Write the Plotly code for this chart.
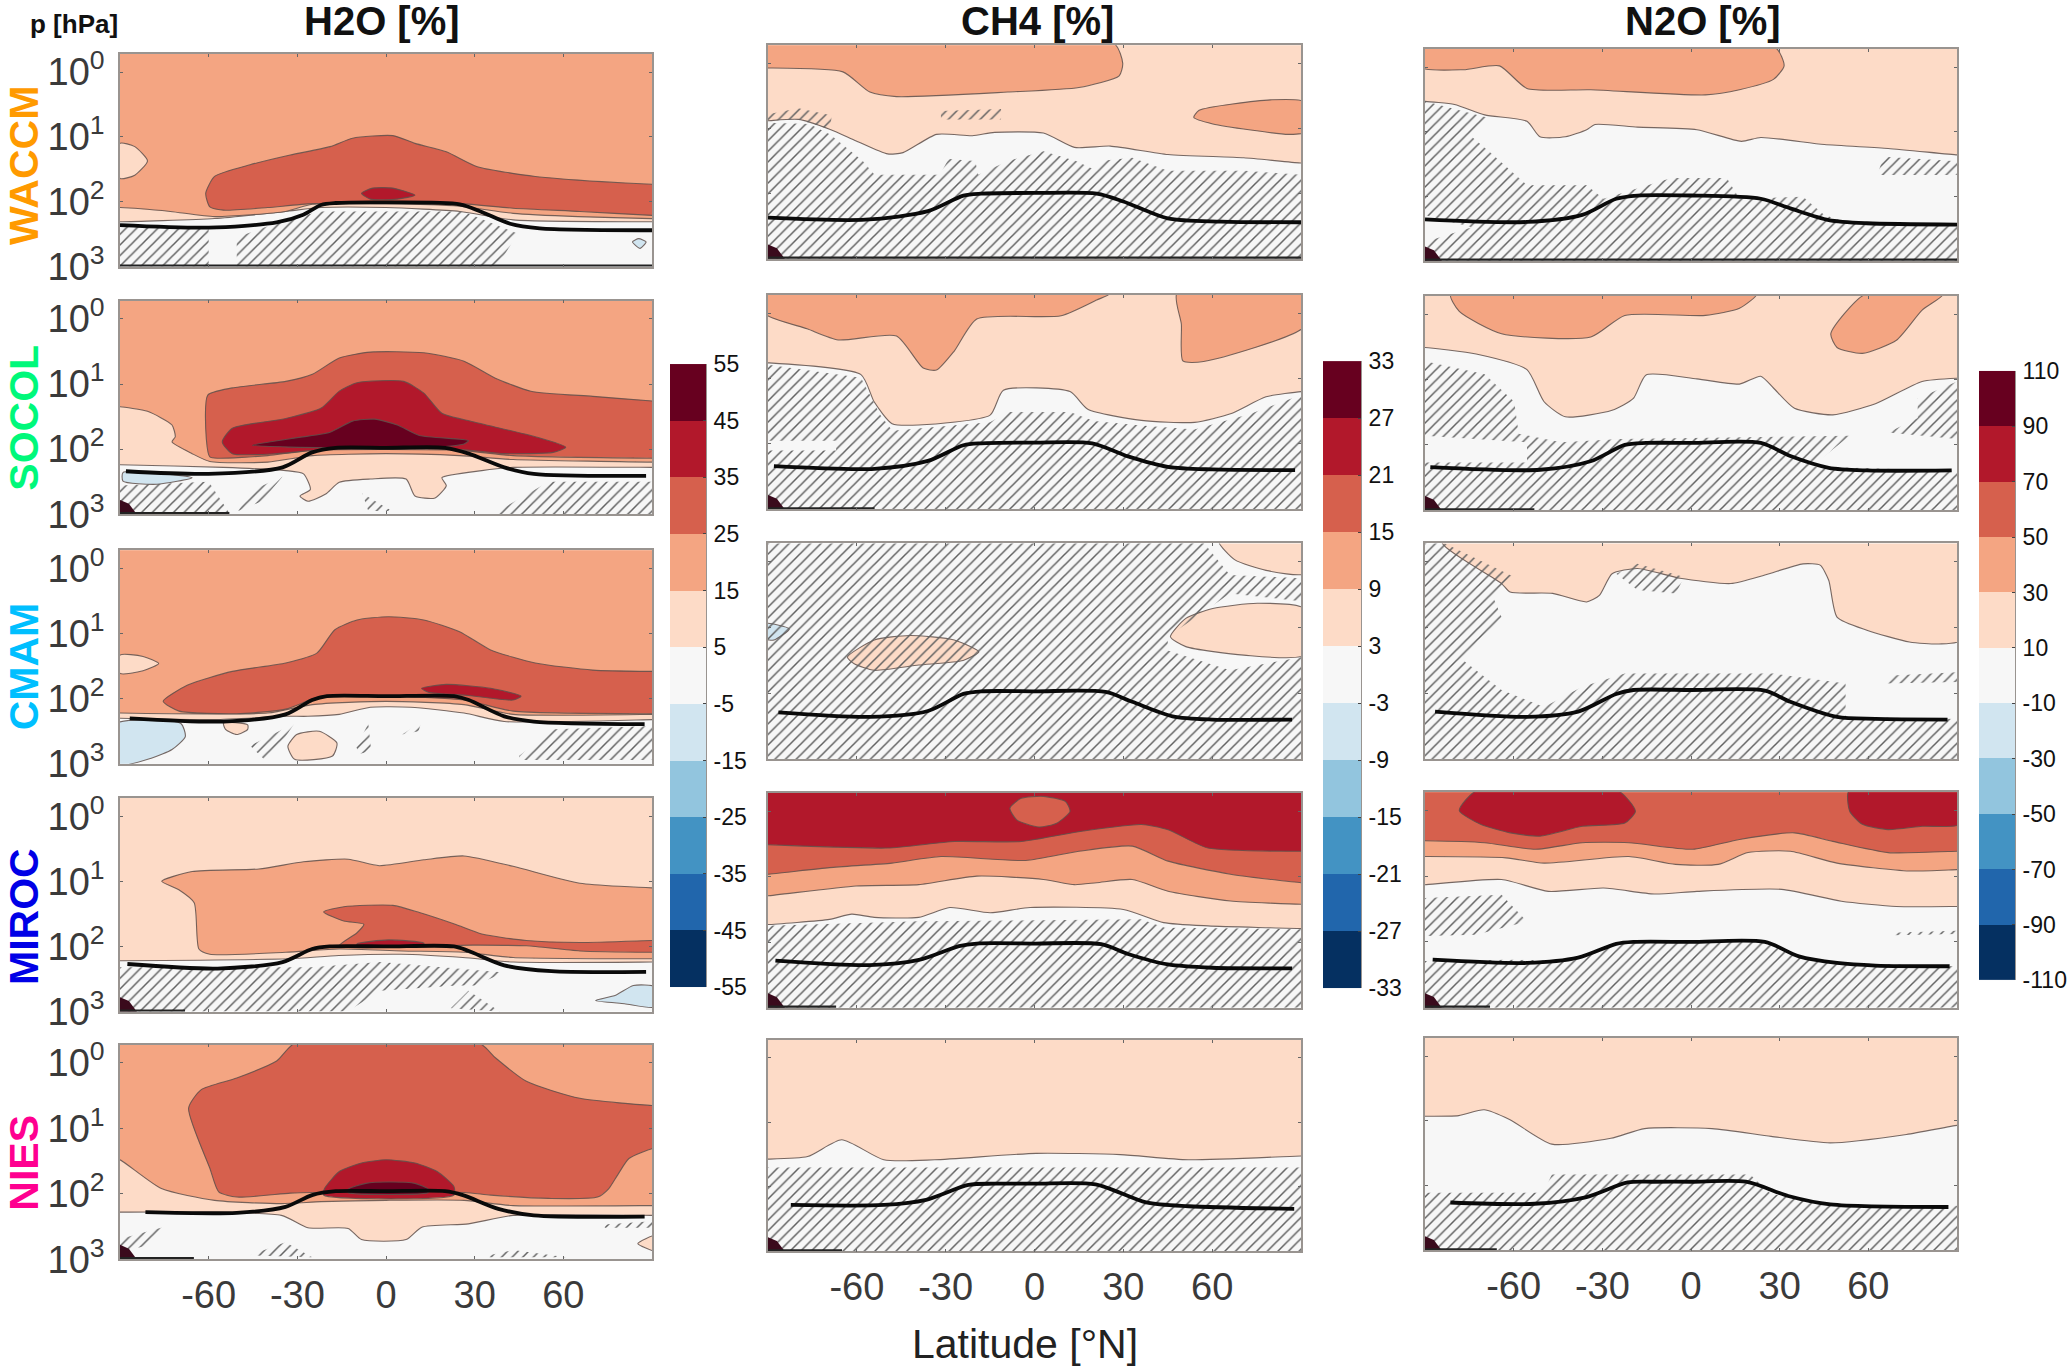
import numpy as np
import plotly.graph_objects as go

# colour classes, lowest to highest
colors = ['#053061', '#2166ac', '#4393c3', '#92c5de', '#d1e5f0', '#f7f7f7',
          '#fddbc7', '#f4a582', '#d6604d', '#b2182b', '#67001f']

h2o_levels = [-55, -45, -35, -25, -15, -5, 5, 15, 25, 35, 45, 55]
ch4_levels = [-33, -27, -21, -15, -9, -3, 3, 9, 15, 21, 27, 33]
n2o_levels = [-110, -90, -70, -50, -30, -10, 10, 30, 50, 70, 90, 110]

species = ['H2O [%]', 'CH4 [%]', 'N2O [%]']
models = ['WACCM', 'SOCOL', 'CMAM', 'MIROC', 'NIES']
model_colors = ['#ff9a00', '#00f87a', '#00bfff', '#0000e6', '#ff0090']
lat_ticks = [-60, -30, 0, 30, 60]
p_ticks = [1, 10, 100, 1000]
p_labels = ['10<sup>0</sup>', '10<sup>1</sup>', '10<sup>2</sup>', '10<sup>3</sup>']

# all curves below are (latitude, log10 pressure)

# ---- H2O WACCM
h2o_waccm_6 = [(-90, 2.31), (-58, 2.26), (-34, 2.15), (-22, 2.09), (0, 2.09), (25, 2.15), (43, 2.28), (90, 2.31)]
h2o_waccm_7 = [(-90, 2.09), (-73, 2.15), (-58, 2.23), (-34, 2.15), (-25, 2.04), (0, 2.03), (25, 2.07), (43, 2.18), (65, 2.23), (90, 2.26)]
h2o_waccm_blob = [(-90, 1.10), (-85, 1.15), (-80.7, 1.37), (-85, 1.59), (-90, 1.64), (-90, 1.10)]
h2o_waccm_8 = [(-59.6, 2.08), (-61, 1.87), (-58, 1.61), (-46, 1.43), (-32.4, 1.28), (-18.9, 1.15), (-11.3, 1.02), (2.3, 0.98), (9.8, 1.10), (20.4, 1.23), (30.9, 1.46), (50.5, 1.61), (73, 1.69), (90, 1.73), (91, 1.73), (91, 2.21), (90, 2.21), (65.6, 2.15), (43, 2.10), (24.9, 2.03), (-24.9, 2.03), (-40, 2.09), (-55, 2.13), (-59.6, 2.08)]
h2o_waccm_9 = [(-8.3, 1.87), (-4.5, 1.79), (2.3, 1.79), (9.8, 1.90), (3.8, 1.96), (-5.3, 1.96), (-8.3, 1.87)]
h2o_waccm_blue = [(83.4, 2.62), (85.5, 2.57), (88, 2.62), (86, 2.72), (83.4, 2.62)]
h2o_waccm_hatch = [
    [(-90, 2.39), (-60, 2.39), (-60, 3), (-90, 3)],
    [(-50.5, 2.55), (-34, 2.28), (-22, 2.15), (26, 2.15), (44.5, 2.49), (37.7, 3), (-50.5, 3)],
]
h2o_waccm_trop = [(-90, 2.36), (-60, 2.40), (-37, 2.32), (-28, 2.2), (-22, 2.05), (-17, 2.02), (0, 2.01), (25, 2.04), (32, 2.15), (42, 2.34), (52, 2.41), (90, 2.44)]

# ---- H2O SOCOL
h2o_socol_6 = [(-90, 2.24), (-55, 2.28), (-33.9, 2.33), (-27.9, 2.38), (-25.6, 2.62), (-29.1, 2.72), (-26.4, 2.80), (-20.4, 2.69), (-15.8, 2.51), (-5.3, 2.46), (6.8, 2.46), (9.8, 2.72), (16.6, 2.75), (20.4, 2.56), (18.9, 2.44), (32.4, 2.33), (43, 2.28), (90, 2.28)]
h2o_socol_7 = [(-90, 1.35), (-80.7, 1.42), (-72.4, 1.63), (-71.3, 1.81), (-72.4, 1.89), (-65.6, 2.07), (-59.6, 2.19), (-40, 2.20), (-24.9, 2.10), (0, 2.07), (24.9, 2.10), (43, 2.16), (90, 2.20)]
h2o_socol_8 = [(-59.6, 2.12), (-60.8, 1.84), (-60.3, 1.17), (-52, 1.06), (-33.9, 0.96), (-24.9, 0.85), (-15.8, 0.60), (-5.3, 0.51), (12.8, 0.52), (26.4, 0.65), (37, 0.91), (49, 1.11), (70, 1.19), (90, 1.26), (91, 1.26), (91, 2.14), (90, 2.14), (43, 2.10), (24.9, 2.02), (-24.9, 2.02), (-40, 2.10), (-56.6, 2.14), (-59.6, 2.12)]
h2o_socol_9 = [(-55.4, 1.89), (-52, 1.68), (-33.9, 1.53), (-21.9, 1.37), (-15.8, 1.11), (-9.8, 0.98), (6, 0.96), (12.8, 1.14), (18.9, 1.45), (29.4, 1.58), (50.5, 1.81), (60.8, 1.97), (56.6, 2.05), (40, 2.07), (26.4, 2.01), (-21.9, 2.01), (-37, 2.07), (-52, 2.07), (-55.4, 1.89)]
h2o_socol_10 = [(-45.2, 1.94), (-32.4, 1.84), (-18.9, 1.74), (-11.3, 1.57), (-3.8, 1.54), (3.8, 1.63), (11.3, 1.79), (27.9, 1.87), (26.4, 1.92), (14.3, 1.98), (-14.3, 1.98), (-32.4, 1.97), (-45.2, 1.94)]
h2o_socol_blue = [(-89, 2.36), (-65.6, 2.44), (-77.5, 2.54), (-89, 2.49), (-89, 2.36)]
h2o_socol_hatch = [
    [(-90, 2.56), (-60, 2.5), (-53, 2.98), (-90, 3)],
    [(-46, 2.65), (-35, 2.42), (-42, 2.8), (-50, 2.95)],
    [(-8, 2.68), (2, 2.95), (-6, 2.95)],
    [(38, 2.95), (55, 2.5), (90, 2.5), (90, 3), (38, 3)],
]
h2o_socol_trop = [(-88, 2.34), (-60, 2.38), (-35, 2.28), (-25, 2.05), (-17, 1.98), (0, 1.98), (20, 1.98), (28, 2.07), (40, 2.28), (50, 2.38), (88, 2.41)]

# ---- H2O CMAM
h2o_cmam_6 = [(-90, 2.30), (-58, 2.32), (-34, 2.27), (-26.4, 2.27), (-15.8, 2.24), (-5.3, 2.13), (8.3, 2.13), (26.4, 2.22), (40, 2.35), (90, 2.32)]
h2o_cmam_7 = [(-90, 2.22), (-40, 2.22), (-24.9, 2.09), (0, 2.04), (26.4, 2.09), (43, 2.24), (90, 2.24)]
h2o_cmam_blob = [(-90, 1.33), (-82.2, 1.35), (-76.9, 1.46), (-82.2, 1.57), (-90, 1.61), (-90, 1.33)]
h2o_cmam_8 = [(-75.4, 2.04), (-67.1, 1.79), (-52, 1.58), (-33.9, 1.45), (-23.4, 1.30), (-17.3, 0.94), (-9.8, 0.79), (0.8, 0.74), (12.8, 0.79), (24.9, 0.97), (35.4, 1.25), (50.5, 1.45), (70, 1.56), (90, 1.58), (91, 1.58), (91, 2.23), (90, 2.23), (43, 2.19), (26.4, 2.02), (0, 1.96), (-21.9, 1.96), (-33.9, 2.16), (-50.5, 2.23), (-70, 2.19), (-75.4, 2.04)]
h2o_cmam_9 = [(12, 1.84), (20.4, 1.78), (35.4, 1.84), (45.7, 1.96), (43, 2.02), (27.9, 1.95), (14.3, 1.90), (12, 1.84)]
h2o_cmam_blue = [(-91, 2.38), (-69.4, 2.38), (-67.9, 2.58), (-72.4, 2.78), (-79.2, 2.91), (-91, 3.02), (-91, 2.38)]
h2o_cmam_spot1 = [(-55, 2.37), (-46.8, 2.40), (-46.8, 2.47), (-50.5, 2.55), (-54.3, 2.47), (-55, 2.37)]
h2o_cmam_spot2 = [(-33.2, 2.73), (-30.2, 2.55), (-22.6, 2.50), (-16.6, 2.68), (-18.1, 2.88), (-30.9, 2.93), (-33.2, 2.73)]
h2o_cmam_hatch = [
    [(-46, 2.72), (-31, 2.38), (-36, 2.72), (-41, 2.94)],
    [(-10, 2.75), (-6, 2.38), (-5, 2.8), (-9, 2.85)],
    [(5.5, 2.55), (12, 2.35), (11, 2.5)],
    [(45, 2.88), (57, 2.47), (90, 2.42), (90, 2.94), (45, 2.94)],
]
h2o_cmam_trop = [(-86.7, 2.30), (-55, 2.35), (-34, 2.24), (-25, 2.02), (-20, 1.96), (0, 1.96), (23, 1.96), (28, 2.02), (40, 2.27), (50, 2.35), (87.5, 2.39)]

# ---- H2O MIROC
h2o_miroc_6 = [(-90, 2.22), (-33, 2.19), (-16, 2.14), (5, 2.12), (26, 2.17), (43, 2.24), (90, 2.24)]
h2o_miroc_7 = [(-75.9, 1.0), (-65.6, 0.85), (-43, 0.81), (-27.9, 0.70), (-12.8, 0.66), (-2.3, 0.76), (12.8, 0.67), (26.4, 0.61), (43, 0.77), (65.6, 1.03), (90, 1.10), (91, 1.10), (91, 2.19), (90, 2.19), (43, 2.17), (26.4, 2.09), (5.3, 2.07), (-15.8, 2.04), (-33.9, 2.09), (-59.6, 2.12), (-63.3, 2.04), (-64.9, 1.33), (-70.1, 1.13), (-75.9, 1.0)]
h2o_miroc_8 = [(-21.1, 1.47), (-14.3, 1.39), (2.3, 1.37), (11.3, 1.48), (23.4, 1.66), (32.4, 1.81), (47.5, 1.91), (65.6, 1.94), (90, 1.91), (91, 1.91), (91, 2.09), (90, 2.09), (65.6, 2.07), (47.5, 1.99), (29.4, 1.98), (-15.8, 1.99), (-9.8, 1.79), (-7.5, 1.66), (-14.3, 1.61), (-21.1, 1.47)]
h2o_miroc_9 = [(-9.8, 1.96), (0.8, 1.90), (12.8, 1.95), (12.8, 1.99), (-9.8, 1.99), (-9.8, 1.96)]
h2o_miroc_blue = [(70.9, 2.83), (77.7, 2.75), (83.7, 2.60), (91, 2.62), (91, 2.93), (80.7, 2.88), (70.9, 2.83)]
h2o_miroc_hatch = [
    [(-90, 2.32), (-25, 2.32), (-2, 2.24), (40, 2.40), (30, 2.60), (24, 2.60), (-2, 2.68), (-13, 3), (-90, 3)],
    [(21.9, 2.95), (27.9, 2.68), (38.5, 3)],
]
h2o_miroc_trop = [(-87.5, 2.27), (-57, 2.34), (-35, 2.24), (-25, 2.04), (-19, 2.0), (0, 2.0), (23, 2.0), (28, 2.07), (40, 2.29), (56, 2.38), (88, 2.39)]

# ---- H2O NIES
h2o_nies_6 = [(-90, 2.28), (-35.4, 2.33), (-26.4, 2.52), (-12.8, 2.53), (-8.3, 2.70), (6.8, 2.70), (12.1, 2.51), (27.9, 2.46), (43, 2.33), (90, 2.33)]
h2o_nies_spot = [(91, 2.64), (85.2, 2.76), (91, 2.87), (91, 2.64)]
h2o_nies_7 = [(-90, 1.48), (-76, 1.92), (-58, 2.10), (-35.4, 2.15), (-21.9, 2.12), (0, 2.10), (26.4, 2.10), (43, 2.18), (90, 2.18)]
h2o_nies_8 = [(-30.9, -0.3), (31.7, -0.3), (37, -0.08), (47.5, 0.28), (65.6, 0.54), (90, 0.65), (91, 0.65), (91, 1.31), (90, 1.31), (82.2, 1.46), (78.4, 1.71), (75.4, 1.92), (71.6, 2.05), (55, 2.07), (35.4, 2.02), (26.4, 1.98), (-24.9, 1.98), (-32.4, 1.99), (-50.5, 2.05), (-56.6, 1.97), (-59.6, 1.61), (-66.8, 0.69), (-62.6, 0.41), (-50.5, 0.23), (-37, -0.03), (-30.9, -0.3)]
h2o_nies_9 = [(-20.8, 1.92), (-15.8, 1.66), (-8.3, 1.53), (0, 1.48), (9.8, 1.53), (17.3, 1.66), (23, 1.89), (23, 2.02), (-21.1, 2.02), (-20.8, 1.92)]
h2o_nies_10 = [(-12.8, 1.93), (-6.8, 1.84), (0.8, 1.82), (9.8, 1.84), (14.3, 1.93), (14.3, 1.98), (-12.8, 1.98), (-12.8, 1.93)]
h2o_nies_hatch = [
    [(-90, 2.69), (-73, 2.48), (-80.7, 2.79), (-90, 2.89)],
    [(-46, 2.94), (-34, 2.74), (-25, 2.97)],
    [(35, 2.94), (43, 2.86), (61, 2.97), (35, 2.97)],
    [(74, 2.47), (90, 2.42), (90, 2.52), (74, 2.52)],
]
h2o_nies_trop = [(-81.4, 2.28), (-50.5, 2.29), (-34, 2.20), (-25, 2.02), (-17, 1.96), (0, 1.96), (20, 1.96), (26, 2.02), (38, 2.23), (50, 2.33), (87.5, 2.35)]

# ---- CH4 WACCM
ch4_waccm_6 = [(-90, .88), (-79.7, .86), (-69.2, 1.01), (-60.2, 1.19), (-49.6, 1.39), (-44.4, 1.37), (-33.1, 1.09), (-21, 1.11), (-13.5, 1.06), (3, 1.07), (13.5, 1.29), (25.6, 1.27), (45.1, 1.40), (70.7, 1.45), (90, 1.53)]
ch4_waccm_7 = [(-90, .07), (-64.7, .13), (-55.6, .44), (-46.6, .51), (-9, .44), (15, .37), (28.6, .19), (29.8, 0), (27, -.3), (-91, -.3), (-91, .07), (-90, .07)]
ch4_waccm_7b = [(91, .59), (79.7, .56), (55.6, .72), (53.8, .83), (60.2, .93), (85.7, 1.09), (91, 1.06), (91, .59)]
ch4_waccm_hatch = [
    [(-90, .91), (-76, .93), (-69, 1.09), (-58, 1.50), (-54, 1.71), (-32, 1.71), (-29, 1.47), (-20, 1.50), (-19, 1.71), (-9, 1.50), (3, 1.35), (14, 1.50), (21, 1.65), (22, 1.50), (33, 1.45), (45, 1.65), (71, 1.65), (90, 1.71), (90, 3), (-90, 3)],
    [(-90, .78), (-79.7, .69), (-68.4, .80), (-69.2, 1.01), (-79.7, .86), (-90, .88)],
    [(-31.6, .73), (-11.3, .70), (-11.3, .86), (-31.6, .86)],
]
ch4_waccm_trop = [(-90, 2.37), (-57.1, 2.40), (-36, 2.27), (-24, 2.03), (-18, 2.0), (0, 1.99), (21, 2.0), (30, 2.12), (45, 2.38), (63, 2.43), (90, 2.44)]

# ---- CH4 SOCOL
ch4_socol_6 = [(-90, .76), (-58.6, .94), (-54.1, 1.36), (-48.1, 1.69), (-39.1, 1.71), (-15, 1.56), (-10.5, 1.18), (12, 1.20), (18, 1.47), (36.1, 1.64), (54.1, 1.67), (66.2, 1.54), (78.2, 1.28), (90, 1.20)]
ch4_socol_7 = [(-91, .01), (-76.8, .24), (-66.3, .41), (-46.6, .35), (-37.6, .84), (-33.1, .87), (-27.1, .58), (-19.5, .09), (9, .04), (21, -.2), (25.6, -.3), (-91, -.3), (-91, .01)]
ch4_socol_7b = [(48.1, -.3), (49.6, .17), (50.1, .73), (57.1, .74), (91, .21), (91, -.3), (48.1, -.3)]
ch4_socol_hatch = [
    [(-90, .79), (-58.6, .99), (-52, 1.56), (-48, 1.80), (-15, 1.67), (-9, 1.51), (12, 1.51), (20, 1.65), (36, 1.72), (54, 1.78), (73, 1.54), (90, 1.25), (90, 3), (-90, 3), (-90, 2.1), (-67, 2.1), (-67, 1.95), (-90, 1.95)],
]
ch4_socol_trop = [(-88, 2.34), (-54, 2.38), (-36, 2.26), (-24, 2.02), (-18, 1.99), (0, 1.98), (19.5, 1.99), (31.6, 2.19), (45, 2.35), (60, 2.39), (88, 2.40)]

# ---- CH4 CMAM
ch4_cmam_6 = [(62.4, -.3), (67.7, -.03), (78.2, .13), (91, .18), (91, -.3), (62.4, -.3)]
ch4_cmam_6b = [(45.9, 1.14), (51.1, .86), (60.2, .71), (75.2, .63), (91, .71), (91, 1.42), (70.7, 1.42), (51.1, 1.29), (45.9, 1.14)]
ch4_cmam_6c = [(-63.2, 1.45), (-54.1, 1.19), (-42.1, 1.12), (-27.1, 1.19), (-18.8, 1.37), (-24.1, 1.50), (-39.1, 1.57), (-54.1, 1.65), (-60.9, 1.55), (-63.2, 1.45)]
ch4_cmam_blue = [(-91, .94), (-82.8, 1.02), (-88, 1.19), (-91, 1.17), (-91, .94)]
ch4_cmam_hatch = [
    [(-90, -.3), (57, -.3), (66, .2), (90, .25), (90, .6), (66, .48), (45, 1.14), (45, 1.35), (66, 1.65), (90, 1.45), (90, 3), (-90, 3)],
]
ch4_cmam_trop = [(-86.5, 2.29), (-55.6, 2.36), (-36, 2.27), (-24, 2.01), (-18, 1.97), (0, 1.97), (24, 1.98), (33, 2.13), (46.6, 2.35), (60, 2.40), (87, 2.40)]

# ---- CH4 MIROC
ch4_miroc_6 = [(-90, 1.73), (-69.2, 1.65), (-61.7, 1.57), (-54.1, 1.62), (-39.1, 1.62), (-28.6, 1.47), (-15, 1.55), (-1.5, 1.47), (30, 1.50), (43.6, 1.70), (58.6, 1.75), (90, 1.79)]
ch4_miroc_7 = [(-90, 1.29), (-60.2, 1.14), (-39.1, 1.12), (-19.5, .99), (3, 1.04), (13.5, 1.12), (21, 1.09), (33, 1.04), (45.1, 1.22), (66.2, 1.37), (90, 1.42)]
ch4_miroc_8 = [(-90, .96), (-69.2, .86), (-48.1, .79), (-31.6, .69), (-3, .75), (15, .61), (33, .53), (45.1, .76), (66.2, .96), (90, 1.09)]
ch4_miroc_9 = [(-90, .51), (-49.6, .56), (-27.1, .46), (-4.5, .46), (16.5, .30), (36.1, .20), (45.1, .28), (58.6, .56), (90, .61)]
ch4_miroc_8b = [(-8.3, -.05), (-4.5, -.2), (3, -.23), (10.5, -.15), (12, 0), (7.5, .18), (1.5, .24), (-6, .13), (-8.3, -.05)]
ch4_miroc_hatch = [
    [(-90, 1.75), (-39, 1.68), (36, 1.65), (44, 1.78), (90, 1.80), (90, 3), (-90, 3)],
]
ch4_miroc_trop = [(-87.5, 2.28), (-55.6, 2.35), (-39, 2.27), (-25.5, 2.06), (-19.5, 2.02), (0, 2.02), (22.5, 2.03), (31.6, 2.18), (45, 2.34), (60, 2.39), (87, 2.40)]

# ---- CH4 NIES
ch4_nies_6 = [(-90, 1.57), (-76.6, 1.53), (-65.1, 1.27), (-50.9, 1.58), (-33.7, 1.58), (.6, 1.48), (29, 1.50), (51.9, 1.58), (90, 1.52)]
ch4_nies_hatch = [
    [(-90, 1.70), (90, 1.70), (90, 3), (-90, 3)],
]
ch4_nies_trop = [(-82.3, 2.28), (-50.9, 2.28), (-36.6, 2.20), (-22.3, 1.97), (-13.7, 1.95), (0, 1.95), (20.6, 1.96), (37.7, 2.24), (52, 2.30), (87.7, 2.34)]

# ---- N2O WACCM
n2o_waccm_6 = [(-90, .53), (-80, .58), (-69.8, .74), (-55.5, .84), (-51.1, 1.08), (-42.5, 1.08), (-35.3, .97), (-32.5, .89), (-18.1, .93), (2, .97), (17, 1.15), (23.6, 1.09), (45.1, 1.20), (66.7, 1.26), (90, 1.36)]
n2o_waccm_7 = [(-91, .01), (-77, .04), (-64.8, -.02), (-55.5, .33), (-33.9, .35), (4.9, .43), (16.4, .35), (27.9, .19), (31.5, -.02), (28.6, -.3), (-91, -.3), (-91, .01)]
n2o_waccm_hatch = [
    [(-90, .53), (-68.4, .79), (-74.9, 1.05), (-67.7, 1.33), (-55.5, 1.83), (-35.3, 1.83), (-29.6, 2.04), (-6.6, 1.72), (12.1, 1.72), (16.4, 2.04), (37.9, 2.01), (45.1, 2.29), (53.7, 2.42), (90, 2.45), (90, 3), (-90, 3), (-90, 2.71), (-74.1, 2.48), (-90, 2.29)],
    [(63, 1.67), (65.2, 1.39), (90, 1.46), (90, 1.67)],
]
n2o_waccm_trop = [(-90, 2.36), (-55.5, 2.40), (-36.8, 2.29), (-25.3, 2.04), (-18.1, 1.99), (0, 1.99), (23.6, 2.04), (33.6, 2.19), (46.6, 2.37), (59.5, 2.42), (90, 2.44)]

# ---- N2O SOCOL
n2o_socol_6 = [(-90, .51), (-72.7, .61), (-55.5, .85), (-49.7, 1.34), (-42.5, 1.57), (-26.7, 1.47), (-19.5, 1.29), (-15.2, .93), (2, .99), (16.4, 1.07), (23.6, .95), (27.9, 1.13), (35, 1.44), (48, 1.54), (62.4, 1.37), (78.2, 1.03), (90, .98)]
n2o_socol_7 = [(-81.3, -.3), (-78.4, -.04), (-64.1, .30), (-33.9, .35), (-22.4, .02), (4.9, .02), (16.4, -.09), (22.1, -.3), (-81.3, -.3)]
n2o_socol_7b = [(58.8, -.3), (47.3, .30), (49.4, .51), (58, .60), (69.5, .40), (78.2, -.06), (85.3, -.3), (58.8, -.3)]
n2o_socol_hatch = [
    [(-90, .72), (-69.8, .92), (-59.8, 1.34), (-58.3, 1.83), (-44, 1.96), (-23.9, 1.91), (53.7, 1.86), (40.8, 2.33), (90, 2.40), (90, 3), (-90, 3), (-90, 2.27), (-55.5, 2.27), (-55.5, 1.96), (-90, 1.86)],
    [(76.7, 1.29), (90, 1.03), (90, 1.91), (66.7, 1.81), (76.7, 1.59)],
]
n2o_socol_trop = [(-88.2, 2.34), (-51, 2.38), (-34, 2.25), (-22.4, 2.0), (-15.2, 1.97), (0, 1.97), (23.6, 1.97), (33.6, 2.17), (46.6, 2.35), (59.5, 2.39), (88.2, 2.39)]

# ---- N2O CMAM
n2o_cmam_6 = [(-84.2, -.3), (-64.1, .33), (-61.2, .46), (-46.8, .48), (-35.3, .61), (-31, .51), (-26.7, .18), (-18.1, .10), (-3.7, .25), (13.5, .33), (25, .20), (37.9, .03), (43.7, .05), (46.6, .28), (49.4, .84), (59.5, 1.04), (73.9, 1.22), (83.9, 1.25), (91, 1.20), (91, -.3), (-84.2, -.3)]
n2o_cmam_hatch = [
    [(-90, -.3), (-84.2, -.3), (-59.8, .23), (-67, .53), (-64.1, .84), (-77, 1.5), (-64.1, 1.95), (-49.7, 2.21), (-36.8, 1.90), (-22.4, 1.70), (27.9, 1.70), (52.3, 1.85), (52.3, 2.36), (90, 2.39), (90, 3), (-90, 3)],
    [(-25.3, .18), (-18.1, .03), (-2.3, .23), (-5.2, .48), (-18.1, .43)],
    [(65.2, 1.85), (68.1, 1.73), (90, 1.68), (90, 1.83)],
]
n2o_cmam_trop = [(-86.6, 2.28), (-55.5, 2.36), (-38.2, 2.28), (-25.3, 2.01), (-19.5, 1.95), (0, 1.95), (25, 1.96), (33.6, 2.13), (49.4, 2.36), (62.4, 2.39), (86.8, 2.40)]

# ---- N2O MIROC
n2o_miroc_6 = [(-90, 1.13), (-64.1, 1.05), (-48.3, 1.23), (-29.6, 1.18), (-12.4, 1.27), (2, 1.23), (30.7, 1.20), (50.9, 1.38), (69.5, 1.46), (90, 1.46)]
n2o_miroc_7 = [(-90, .70), (-62.6, .72), (-49.7, .80), (-21, .70), (-5.2, .82), (9.2, .82), (19.3, .64), (33.6, .62), (49.4, .80), (73.9, .92), (90, .90)]
n2o_miroc_8 = [(-90, .46), (-69.9, .49), (-52.6, .59), (-36.8, .49), (-21, .49), (.6, .59), (16.4, .44), (35, .34), (48, .47), (66.7, .64), (90, .62)]
n2o_miroc_9 = [(-78.4, 0), (-72.7, -.3), (-24.6, -.3), (-18.8, .01), (-22.4, .19), (-36.8, .24), (-51.1, .39), (-61.2, .34), (-71.2, .21), (-78.4, 0)]
n2o_miroc_9b = [(53.4, -.3), (53.7, .01), (58, .21), (66.7, .29), (78.2, .24), (91, .21), (91, -.3), (53.4, -.3)]
n2o_miroc_hatch = [
    [(-90, 1.33), (-64.1, 1.28), (-55.5, 1.69), (-72.7, 1.89), (-90, 1.91)],
    [(-90, 2.29), (-62, 2.27), (-40, 2.29), (-26, 2.02), (24, 1.99), (38, 2.24), (51, 2.32), (90, 2.37), (90, 3), (-90, 3)],
    [(68, 1.86), (90, 1.83), (90, 1.88), (68, 1.90)],
]
n2o_miroc_trop = [(-87.4, 2.27), (-55.5, 2.32), (-38.2, 2.24), (-25.3, 2.03), (-19.5, 2.0), (0, 2.0), (25, 2.0), (36.5, 2.22), (49.4, 2.32), (62.4, 2.36), (87.5, 2.37)]

# ---- N2O NIES
n2o_nies_6 = [(-90, .93), (-78.6, .92), (-70, .83), (-61.4, .98), (-47.1, 1.36), (-27.1, 1.27), (-15.7, 1.12), (7.1, 1.12), (27.1, 1.24), (47.1, 1.34), (72.9, 1.21), (90, 1.07)]
n2o_nies_hatch = [
    [(-90, 2.11), (-50, 2.11), (-47.1, 1.83), (20, 1.83), (27.1, 2.13), (50, 2.31), (90, 2.31), (90, 3), (-90, 3)],
]
n2o_nies_trop = [(-81.4, 2.26), (-52.9, 2.28), (-35.7, 2.18), (-21.4, 1.95), (-12.9, 1.94), (0, 1.94), (18.6, 1.94), (32.9, 2.16), (47.1, 2.29), (87.1, 2.33)]

# corner patch and how far the dark line runs along the bottom, None = not there
corner = [(-91, 2.76), (-87, 2.84), (-84, 3.02), (-91, 3.02), (-91, 2.76)]
bottom_end = [
    [90, -53, None, -68, -65],
    [90, -54, None, -67, -65],
    [90, -53, None, -68, -65.7],
]
has_corner = [
    [False, True, False, True, True],
    [True, True, False, True, True],
    [True, True, False, True, True],
]


def over_top(curve):
    # close a boundary over the top of the panel
    return curve + [(91, curve[-1][1]), (91, -0.5), (-91, -0.5), (-91, curve[0][1]), curve[0]]


panels = [
    [
        dict(fills=[(6, over_top(h2o_waccm_6)), (7, over_top(h2o_waccm_7)), (6, h2o_waccm_blob), (8, h2o_waccm_8), (9, h2o_waccm_9), (4, h2o_waccm_blue)], hatch=h2o_waccm_hatch, trop=h2o_waccm_trop),
        dict(fills=[(6, over_top(h2o_socol_6)), (7, over_top(h2o_socol_7)), (8, h2o_socol_8), (9, h2o_socol_9), (10, h2o_socol_10), (4, h2o_socol_blue)], hatch=h2o_socol_hatch, trop=h2o_socol_trop),
        dict(fills=[(6, over_top(h2o_cmam_6)), (7, over_top(h2o_cmam_7)), (6, h2o_cmam_blob), (8, h2o_cmam_8), (9, h2o_cmam_9), (4, h2o_cmam_blue), (6, h2o_cmam_spot1), (6, h2o_cmam_spot2)], hatch=h2o_cmam_hatch, trop=h2o_cmam_trop),
        dict(fills=[(6, over_top(h2o_miroc_6)), (7, h2o_miroc_7), (8, h2o_miroc_8), (9, h2o_miroc_9), (4, h2o_miroc_blue)], hatch=h2o_miroc_hatch, trop=h2o_miroc_trop),
        dict(fills=[(6, over_top(h2o_nies_6)), (6, h2o_nies_spot), (7, over_top(h2o_nies_7)), (8, h2o_nies_8), (9, h2o_nies_9), (10, h2o_nies_10)], hatch=h2o_nies_hatch, trop=h2o_nies_trop),
    ],
    [
        dict(fills=[(6, over_top(ch4_waccm_6)), (7, ch4_waccm_7), (7, ch4_waccm_7b)], hatch=ch4_waccm_hatch, trop=ch4_waccm_trop),
        dict(fills=[(6, over_top(ch4_socol_6)), (7, ch4_socol_7), (7, ch4_socol_7b)], hatch=ch4_socol_hatch, trop=ch4_socol_trop),
        dict(fills=[(6, ch4_cmam_6), (6, ch4_cmam_6b), (6, ch4_cmam_6c), (4, ch4_cmam_blue)], hatch=ch4_cmam_hatch, trop=ch4_cmam_trop),
        dict(fills=[(6, over_top(ch4_miroc_6)), (7, over_top(ch4_miroc_7)), (8, over_top(ch4_miroc_8)), (9, over_top(ch4_miroc_9)), (8, ch4_miroc_8b)], hatch=ch4_miroc_hatch, trop=ch4_miroc_trop),
        dict(fills=[(6, over_top(ch4_nies_6))], hatch=ch4_nies_hatch, trop=ch4_nies_trop),
    ],
    [
        dict(fills=[(6, over_top(n2o_waccm_6)), (7, n2o_waccm_7)], hatch=n2o_waccm_hatch, trop=n2o_waccm_trop),
        dict(fills=[(6, over_top(n2o_socol_6)), (7, n2o_socol_7), (7, n2o_socol_7b)], hatch=n2o_socol_hatch, trop=n2o_socol_trop),
        dict(fills=[(6, n2o_cmam_6)], hatch=n2o_cmam_hatch, trop=n2o_cmam_trop),
        dict(fills=[(6, over_top(n2o_miroc_6)), (7, over_top(n2o_miroc_7)), (8, over_top(n2o_miroc_8)), (9, n2o_miroc_9), (9, n2o_miroc_9b)], hatch=n2o_miroc_hatch, trop=n2o_miroc_trop),
        dict(fills=[(6, over_top(n2o_nies_6))], hatch=n2o_nies_hatch, trop=n2o_nies_trop),
    ],
]

W, H = 2067, 1367

# panel boxes in pixels: left, right per column, top, bottom per row
col_x = [(120, 652), (768, 1301), (1425, 1957)]
row_y = [
    [(42, 260), (295, 514), (551, 770), (805, 1024), (1058, 1278)],
    [(33, 252), (289, 509), (544, 765), (800, 1020), (1053, 1270)],
    [(37, 254), (290, 510), (544, 765), (799, 1020), (1051, 1269)],
]
bar_box = [(670, 706, 360, 999), (1323, 1361, 357, 1000), (1979, 2015, 367, 992)]
bar_levels = [h2o_levels, ch4_levels, n2o_levels]

FONT = 'Liberation Sans'
TICK_COLOR = '#3a3a3a'
FRAME = '#999490'
OUTLINE = 'rgba(95,80,75,0.85)'

fig = go.Figure()
layout = {}


def xy(points):
    arr = np.array(points, dtype=float)
    return arr[:, 0], np.power(10.0, arr[:, 1])


n = 0
for c in range(3):
    for r in range(5):
        n += 1
        xa, ya = f'x{n}', f'y{n}'
        panel = panels[c][r]
        for level, pts in panel['fills']:
            x, y = xy(pts)
            fig.add_trace(go.Scatter(
                x=x, y=y, xaxis=xa, yaxis=ya, mode='lines', fill='toself',
                fillcolor=colors[level],
                line=dict(color=OUTLINE, width=1.1, shape='spline', smoothing=0.6),
                hoverinfo='skip', showlegend=False))
        for pts in panel['hatch']:
            x, y = xy(pts + [pts[0]])
            fig.add_trace(go.Scatter(
                x=x, y=y, xaxis=xa, yaxis=ya, mode='lines', fill='toself',
                fillcolor='rgba(0,0,0,0)', line=dict(width=0),
                fillpattern=dict(shape='/', size=7.5, solidity=0.2, fgcolor='#606060',
                                 bgcolor='rgba(0,0,0,0)', fillmode='replace'),
                hoverinfo='skip', showlegend=False))
        x, y = xy(panel['trop'])
        fig.add_trace(go.Scatter(
            x=x, y=y, xaxis=xa, yaxis=ya, mode='lines',
            line=dict(color='#0a0a0a', width=3.8, shape='spline', smoothing=0.8),
            hoverinfo='skip', showlegend=False))
        if has_corner[c][r]:
            x, y = xy(corner)
            fig.add_trace(go.Scatter(
                x=x, y=y, xaxis=xa, yaxis=ya, mode='lines', fill='toself',
                fillcolor='#3a0a1c', line=dict(width=0),
                hoverinfo='skip', showlegend=False))
        if bottom_end[c][r] is not None:
            x, y = xy([(-90, 2.99), (bottom_end[c][r], 2.99)])
            fig.add_trace(go.Scatter(
                x=x, y=y, xaxis=xa, yaxis=ya, mode='lines',
                line=dict(color='#222222', width=3),
                hoverinfo='skip', showlegend=False))

        left, right = col_x[c]
        top, bottom = row_y[c][r]
        layout[f'xaxis{n}'] = dict(
            anchor=ya, domain=[left / W, right / W], range=[-90, 90],
            tickmode='array', tickvals=lat_ticks, ticktext=[str(t) for t in lat_ticks],
            showticklabels=r == 4, ticks='inside', ticklen=3, tickcolor='#666666',
            showgrid=False, zeroline=False, showline=True, linecolor=FRAME, linewidth=1.5,
            mirror='ticks', ticklabelstandoff=1,
            tickfont=dict(family=FONT, size=38, color=TICK_COLOR))
        layout[f'yaxis{n}'] = dict(
            anchor=xa, domain=[1 - bottom / H, 1 - top / H], type='log', range=[3, -0.28],
            tickmode='array', tickvals=p_ticks, ticktext=p_labels,
            showticklabels=c == 0, ticks='inside', ticklen=3, tickcolor='#666666',
            showgrid=False, zeroline=False, showline=True, linecolor=FRAME, linewidth=1.5,
            mirror='ticks', ticklabelstandoff=6,
            tickfont=dict(family=FONT, size=38, color=TICK_COLOR))

# colour bars
for c in range(3):
    n += 1
    xa, ya = f'x{n}', f'y{n}'
    levels = bar_levels[c]
    fig.add_trace(go.Heatmap(
        x=[0, 1], y=levels, z=[[i] for i in range(len(colors))], xaxis=xa, yaxis=ya,
        zmin=0, zmax=len(colors) - 1, showscale=False, hoverinfo='skip',
        colorscale=[[i / (len(colors) - 1), col] for i, col in enumerate(colors)]))
    x0, x1, y0, y1 = bar_box[c]
    layout[f'xaxis{n}'] = dict(
        anchor=ya, domain=[x0 / W, x1 / W], range=[0, 1], showticklabels=False,
        ticks='', showgrid=False, zeroline=False, showline=False)
    layout[f'yaxis{n}'] = dict(
        anchor=xa, domain=[1 - y1 / H, 1 - y0 / H], range=[levels[0], levels[-1]], side='right',
        tickmode='array', tickvals=levels, ticktext=[str(v) for v in levels],
        ticks='inside', ticklen=3, tickcolor='#444444', showgrid=False, zeroline=False,
        showline=True, linecolor=FRAME, linewidth=1, ticklabelstandoff=2,
        tickfont=dict(family=FONT, size=23, color='#111111'))

annotations = []


def label(text, px, py, size, color='#111111', bold=False, angle=0):
    annotations.append(dict(
        text=f'<b>{text}</b>' if bold else text, x=px / W, y=1 - py / H,
        xref='paper', yref='paper', xanchor='center', yanchor='middle', showarrow=False,
        textangle=angle, font=dict(family=FONT, size=size, color=color)))


for name, px in zip(species, [382, 1037, 1703]):
    label(name, px, 8, 40, bold=True)
label('p [hPa]', 74, 11, 26, bold=True)
for name, col, py in zip(models, model_colors, [157, 415, 670, 927, 1179]):
    label(name, 24, py, 41, color=col, bold=True, angle=-90)
label('Latitude [°N]', 1025, 1365, 41, color='#222222')

fig.update_layout(
    width=W, height=H, autosize=False, margin=dict(l=0, r=0, t=0, b=0),
    paper_bgcolor='white', plot_bgcolor='#f7f7f7', annotations=annotations, **layout)

fig.write_html("out.html", config={'displayModeBar': False},
               post_script="document.body.style.margin='0';")
